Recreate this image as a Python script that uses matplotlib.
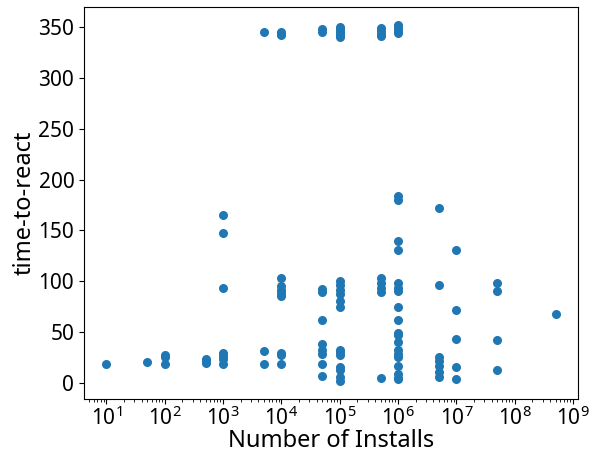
import matplotlib
matplotlib.use("Agg")
import matplotlib.pyplot as plt
from matplotlib.ticker import LogLocator

plt.rcParams['font.family'] = ['Noto Sans', 'DejaVu Sans']
plt.rcParams['mathtext.default'] = 'regular'

# installs category -> list of time-to-react values
installs = [10, 50, 100, 500, 1000, 5000, 10000, 50000, 100000,
            500000, 1000000, 5000000, 10000000, 50000000, 500000000]
times = [
    [19],
    [21],
    [28, 26, 19],
    [24, 22, 20],
    [165, 148, 94, 30, 27, 24, 19],
    [345, 32, 19],
    [345, 343, 342, 103, 95, 92, 89, 86, 30, 28, 19],
    [348, 345, 93, 90, 62, 39, 33, 29, 19, 7],
    [350, 348, 346, 344, 342, 340, 100, 96, 92, 88, 81, 75, 33, 31, 28, 16, 13, 6, 2],
    [349, 346, 343, 341, 103, 98, 94, 90, 5],
    [352, 349, 346, 344, 184, 180, 140, 131, 98, 94, 91, 75, 62, 49, 47, 40,
     33, 29, 26, 17, 9, 5, 4],
    [172, 96, 26, 22, 17, 11, 6],
    [131, 72, 43, 16, 4],
    [98, 91, 42, 13],
    [68],
]

xs = []
ys = []
for inst, tl in zip(installs, times):
    for t in tl:
        xs.append(inst)
        ys.append(t)

fig = plt.figure(figsize=(5.98, 4.5), dpi=100)
ax = fig.add_axes([84/598, 51/450, (578-84)/598, (399-7)/450])
ax.scatter(xs, ys, s=30, color='#1f77b4')
ax.set_xscale('log')
ax.xaxis.set_major_locator(LogLocator(base=10, numticks=20))
ax.xaxis.set_minor_locator(LogLocator(base=10, subs=range(2, 10), numticks=20))
ax.set_xlabel('Number of Installs', fontsize=17, labelpad=-1)
ax.set_ylabel('time-to-react', fontsize=17, labelpad=1)
ax.tick_params(axis='both', labelsize=15)
ax.tick_params(axis='x', pad=2)
fig.savefig('out.png', dpi=100)
